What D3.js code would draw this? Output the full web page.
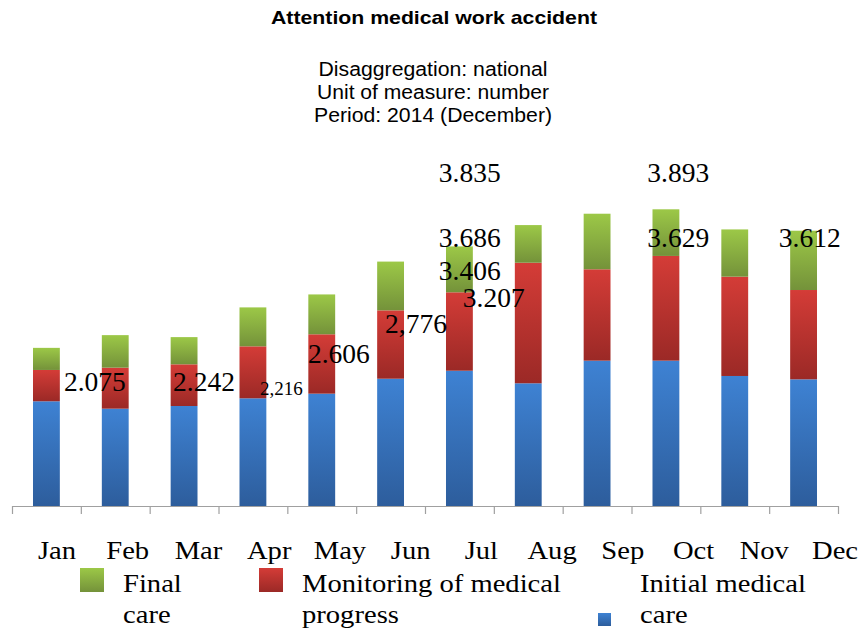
<!DOCTYPE html>
<html>
<head>
<meta charset="utf-8">
<script src="https://cdn.jsdelivr.net/npm/d3@7"></script>
<style>
  body { margin: 0; background: #fff; }
  svg { display: block; }
</style>
</head>
<body>
<svg id="drawing_region"></svg>
<script>
// data
const months = ['Jan', 'Feb', 'Mar', 'Apr', 'May', 'Jun', 'Jul', 'Aug', 'Sep', 'Oct', 'Nov', 'Dec'];
const initialCare = [1374, 1277, 1312, 1413, 1474, 1670, 1775, 1610, 1907, 1907, 1706, 1662];
const monitoring = [411, 538, 547, 682, 779, 897, 1029, 1582, 1199, 1374, 1303, 1172];
const finalCare = [290, 427, 357, 511, 523, 640, 602, 494, 729, 612, 620, 778];
const totalLabels = ['2.075', '2.242', '2,216', '2.606', '2,776', '3.207', '3.406', '3.686', '3.835', '3.893', '3.629', '3.612'];

// where the (oddly placed) total labels sit: x in month-index units, y in value units
const labelPosX = [0.755, 2.339, 3.603, 4.30, 5.42, 6.55, 6.20, 6.20, 6.20, 9.23, 9.23, 11.14];
const labelPosY = [1513, 1513, 1456, 1880, 2266, 2607, 2965, 3394, 4247, 4247, 3394, 3394];

const seriesKeys = ['initial', 'monitoring', 'final'];
const seriesNames = {
    final: ['Final', 'care'],
    monitoring: ['Monitoring of medical', 'progress'],
    initial: ['Initial medical', 'care']
};

const W = 860, H = 631;
const svg = d3.select('#drawing_region').attr('width', W).attr('height', H);

const table = months.map((m, i) => ({
    month: m,
    initial: initialCare[i],
    monitoring: monitoring[i],
    final: finalCare[i]
}));

const x0 = 12, x1 = 838, baseY = 506;
const stretch = 1.1; // serif text in the source is a little wider than it is tall

const xscale = d3.scaleBand()
    .domain(months)
    .range([x0, x1])
    .paddingInner(0.61)
    .paddingOuter(0.305);

const xindex = d3.scaleLinear().domain([0, 12]).range([x0, x1]);

const yscale = d3.scaleLinear()
    .domain([0, 4500])
    .range([baseY, baseY - 4500 / 13.121]);

// gradients for each series (lighter top, darker bottom)
const grads = {
    initial: ['#3e82d3', '#2d5d9c'],
    monitoring: ['#d43c37', '#9b2926'],
    final: ['#9cc847', '#74923a']
};
const defs = svg.append('defs');
Object.entries(grads).forEach(([k, c]) => {
    const g = defs.append('linearGradient')
        .attr('id', 'g_' + k)
        .attr('x1', 0).attr('y1', 0).attr('x2', 0).attr('y2', 1);
    g.append('stop').attr('offset', '0%').attr('stop-color', c[0]);
    g.append('stop').attr('offset', '100%').attr('stop-color', c[1]);
});

// titles (the source image is a bit stretched horizontally, hence textLength)
svg.append('text')
    .attr('x', 434).attr('y', 24)
    .attr('text-anchor', 'middle')
    .attr('textLength', 326)
    .attr('lengthAdjust', 'spacingAndGlyphs')
    .style('font-family', 'Liberation Sans, Arial, sans-serif')
    .style('font-weight', 'bold')
    .style('font-size', '18.5px')
    .text('Attention medical work accident');

const subs = ['Disaggregation: national', 'Unit of measure: number', 'Period: 2014 (December)'];
const subWidths = [229, 232, 238];
svg.append('g').selectAll('text').data(subs).join('text')
    .attr('x', 433)
    .attr('y', (d, i) => 76 + i * 23)
    .attr('text-anchor', 'middle')
    .attr('textLength', (d, i) => subWidths[i])
    .attr('lengthAdjust', 'spacingAndGlyphs')
    .style('font-family', 'Liberation Sans, Arial, sans-serif')
    .style('font-size', '19.5px')
    .text(d => d);

// stacked bars
const stack = d3.stack().keys(seriesKeys);
const layers = stack(table);

svg.append('g').selectAll('g').data(layers).join('g')
    .attr('fill', d => `url(#g_${d.key})`)
    .selectAll('rect').data(d => d).join('rect')
    .attr('x', d => xscale(d.data.month))
    .attr('width', xscale.bandwidth())
    .attr('y', d => yscale(d[1]))
    .attr('height', d => yscale(d[0]) - yscale(d[1]));

// axis
const xaxis = d3.axisBottom(xindex)
    .tickValues(d3.range(0, 13))
    .tickFormat('')
    .tickSize(8)
    .tickSizeOuter(0);

const axisG = svg.append('g')
    .attr('transform', `translate(0, ${baseY})`)
    .call(xaxis);
axisG.selectAll('path, line').attr('stroke', '#a0a0a0').attr('stroke-width', 1.2);

// month labels (set lower, slightly right of the bars as in the original)
const monthLabelX = d3.scalePoint().domain(months).range([57, 835]);
svg.append('g').selectAll('text').data(months).join('text')
    .attr('transform', d => `translate(${monthLabelX(d)}, 559) scale(${stretch}, 1)`)
    .attr('text-anchor', 'middle')
    .style('font-family', 'Liberation Serif, Times New Roman, serif')
    .style('font-size', '26px')
    .text(d => d);

// total labels
svg.append('g').selectAll('text').data(totalLabels).join('text')
    .attr('x', (d, i) => xindex(labelPosX[i]))
    .attr('y', (d, i) => yscale(labelPosY[i]))
    .style('font-family', 'Liberation Serif, Times New Roman, serif')
    .style('font-size', (d, i) => i === 2 ? '19px' : '27.5px')
    .text(d => d);

// legend
const legendItems = [
    { key: 'final', sx: 80, sy: 568, size: 24, tx: 123 },
    { key: 'monitoring', sx: 259, sy: 568, size: 24, tx: 302 },
    { key: 'initial', sx: 598, sy: 613, size: 13, tx: 640 }
];
const leg = svg.append('g').selectAll('g').data(legendItems).join('g');
leg.append('rect')
    .attr('x', d => d.sx).attr('y', d => d.sy)
    .attr('width', d => d.size).attr('height', d => d.size)
    .attr('fill', d => `url(#g_${d.key})`);
leg.append('text')
    .attr('transform', d => `translate(${d.tx}, 592) scale(${stretch}, 1)`)
    .style('font-family', 'Liberation Serif, Times New Roman, serif')
    .style('font-size', '26px')
    .selectAll('tspan').data(d => seriesNames[d.key]).join('tspan')
    .attr('x', 0)
    .attr('dy', (d, i) => i === 0 ? 0 : 31)
    .text(d => d);
</script>
</body>
</html>
